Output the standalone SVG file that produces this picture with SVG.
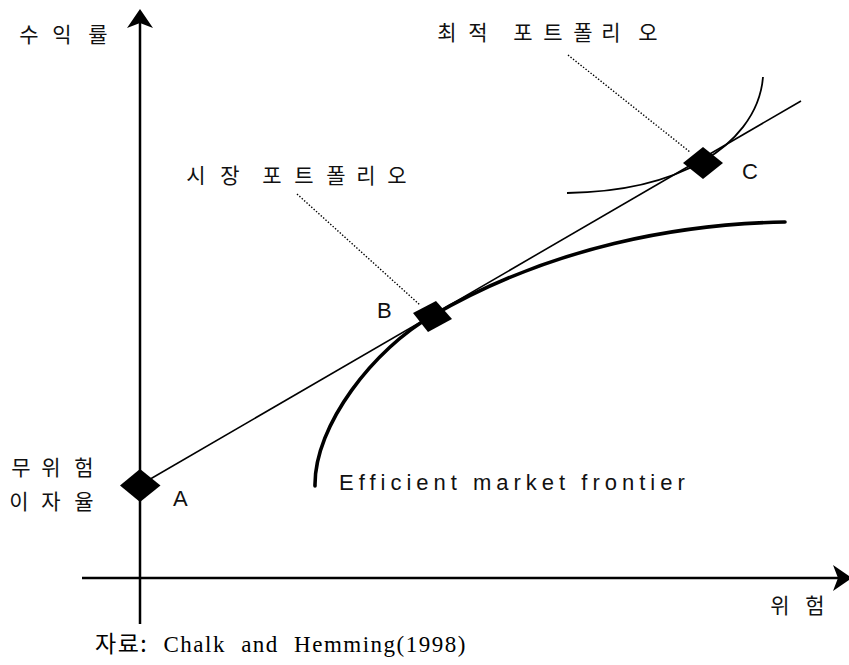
<svg xmlns="http://www.w3.org/2000/svg" width="849" height="665" viewBox="0 0 849 665">
  <style>
    .axis { stroke: #000; stroke-width: 2.5; fill: none; }
    .cml { stroke: #000; stroke-width: 1.6; fill: none; }
    .frontier { stroke: #000; stroke-width: 3.6; fill: none; stroke-linecap: round; }
    .indiff { stroke: #000; stroke-width: 1.8; fill: none; }
    .leader { stroke: #000; stroke-width: 1.4; fill: none; stroke-dasharray: 1.4 1.8; }
    .pt { fill: #000; }
    .ko { font-family: "Noto Sans CJK KR", "Noto Sans", sans-serif; font-size: 21px; fill: #111; text-anchor: middle; }
    .lbl { font-family: "Liberation Sans", Arial, sans-serif; font-size: 22px; fill: #111; }
    .en { font-family: "Liberation Sans", Arial, sans-serif; font-size: 22px; fill: #111; letter-spacing: 5px; }
    .src { font-family: "Liberation Serif", "Noto Sans CJK KR", serif; font-size: 23px; fill: #000; letter-spacing: 1.5px; word-spacing: 8px; }
    .srcko { font-family: "Noto Sans CJK KR", sans-serif; }
  </style>

  <!-- axes -->
  <g id="axes">
    <line class="axis" x1="140" y1="22" x2="140" y2="624"/>
    <polygon class="pt" points="140,9 153,28 140,23 127,28"/>
    <line class="axis" x1="82" y1="578" x2="840" y2="578"/>
    <polygon class="pt" points="852,578 833,591 838,578 833,565"/>
  </g>

  <!-- curves and leader lines -->
  <g id="connectors">
    <line class="cml" x1="140" y1="485" x2="801" y2="101"/>
    <path class="frontier" d="M315,486 C314,425 375,348 432,316 C552,246 680,224 785,222"/>
    <path class="indiff" d="M567,193 C630,192 672,179 703,161 C733,144 760,115 763,77"/>
    <line class="leader" x1="297" y1="194" x2="420" y2="305"/>
    <line class="leader" x1="568" y1="55" x2="690" y2="152"/>
  </g>

  <!-- points -->
  <g id="pointA">
    <polygon class="pt" points="140,469 160.5,485.5 140,502 120,485.5"/>
    <text class="lbl" x="173" y="506">A</text>
  </g>
  <g id="pointB">
    <polygon class="pt" points="413,313 436,301 452,319 428,332"/>
    <text class="lbl" x="377" y="318">B</text>
  </g>
  <g id="pointC">
    <polygon class="pt" points="703,147 723,163 703,179 683,163"/>
    <text class="lbl" x="742" y="179">C</text>
  </g>

  <!-- labels -->
  <g id="yLabel">
    <text class="ko" x="29 62 98" y="42">수익률</text>
  </g>
  <g id="xLabel">
    <text class="ko" x="780 815" y="613">위험</text>
  </g>
  <g id="riskFree">
    <text class="ko" x="21 51 84" y="475">무위험</text>
    <text class="ko" x="19 51 84" y="509">이자율</text>
  </g>
  <g id="marketLabel">
    <text class="ko" x="196 230 251 272 304 336 366 397" y="183">시장 포트폴리오</text>
  </g>
  <g id="optimalLabel">
    <text class="ko" x="447 478 500 523 553 583 611 648" y="40">최적 포트폴리오</text>
  </g>
  <g id="frontierLabel">
    <text class="en" x="339" y="490">Efficient market frontier</text>
  </g>
  <g id="source">
    <text class="src" x="95" y="652"><tspan class="srcko">자료:</tspan> Chalk and Hemming(1998)</text>
  </g>
</svg>
